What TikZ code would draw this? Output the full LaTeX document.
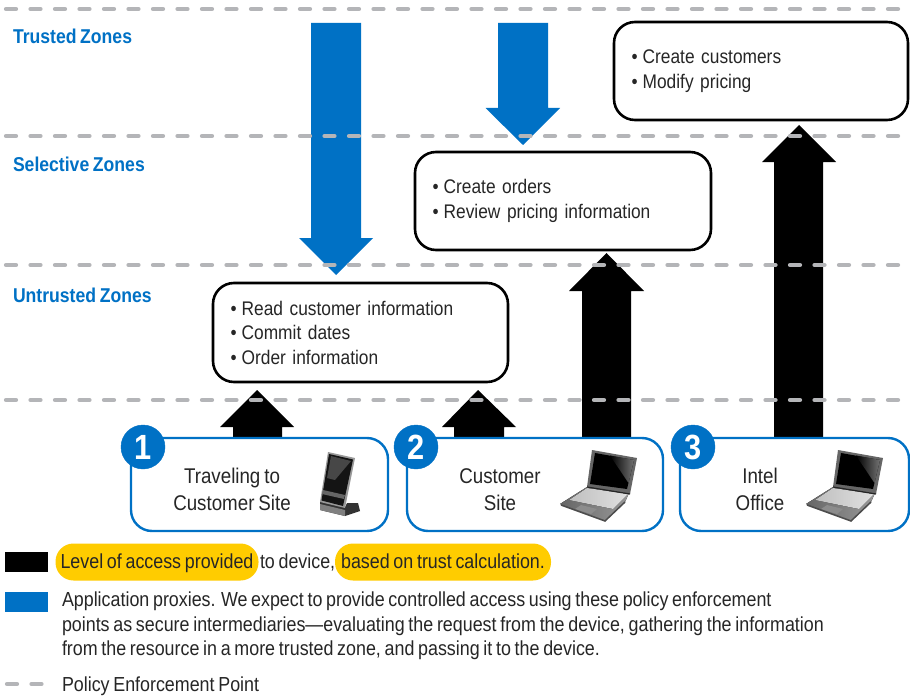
\documentclass[tikz,border=0pt]{standalone}
\usepackage{fontspec}
\setmainfont{Liberation Sans}[FakeStretch=0.88,WordSpace=0.75]
\usetikzlibrary{calc}
\definecolor{intelblue}{HTML}{0071C5}
\definecolor{dashgrey}{HTML}{B4B5B8}
\definecolor{pillyellow}{HTML}{FFCC00}
\definecolor{inktext}{HTML}{262626}
\newcommand{\bulitem}{•\kern-1.5pt\ }
\tikzset{
  x=1pt,y=-1pt,
  zonelabel/.style={anchor=west,inner sep=0pt,outer sep=0pt,text=intelblue,font=\fontsize{20}{22}\selectfont\bfseries},
  accessbox/.style={draw=black,fill=white,line width=2.6pt,rounded corners=21pt,anchor=north west,
    inner xsep=17.5pt,inner ysep=0pt,outer sep=0pt,align=left,text=inktext,
    font=\fontsize{19.7}{24.5}\selectfont},
  sitebox/.style={draw=intelblue,fill=white,line width=2.4pt,rounded corners=21pt,anchor=north west,
    minimum height=93pt,inner sep=0pt,outer sep=0pt},
  sitelabel/.style={align=center,inner sep=0pt,outer sep=0pt,text=inktext,font=\fontsize{21.3}{27}\selectfont},
  badge/.style={circle,fill=intelblue,draw=intelblue,minimum size=44pt,inner sep=0pt,outer sep=0pt,
    text=white,font=\fontsize{35}{35}\selectfont\bfseries},
  pef/.style={draw=dashgrey,line width=4.2pt,line cap=round,dash pattern=on 10pt off 14.5pt},
  bluearrow/.style={fill=intelblue},
  blackarrow/.style={fill=black},
  legendtext/.style={anchor=west,inner sep=0pt,outer sep=0pt,text=inktext,font=\fontsize{20.3}{24.5}\selectfont,align=left},
  pill/.style={fill=pillyellow,rounded corners=18pt,minimum height=37pt,inner sep=0pt,outer sep=0pt,
    text=inktext,font=\fontsize{20.3}{24}\selectfont,text height=16pt,text depth=4pt},
  swatch/.style={anchor=north west,minimum width=43pt,minimum height=20pt,inner sep=0pt,outer sep=0pt},
  laptop/.pic={
    % base
    \fill[left color=black!60,right color=black!40] (587,487) -- (629,493) -- (625,502) -- (605,521) -- (560,504) -- cycle;
    \fill[left color=black!25,right color=black!12] (587,488) -- (628,494) -- (613,509) -- (569,500) -- cycle;
    \fill[black!45] (581,505) -- (597,509) -- (591,514) -- (575,509) -- cycle;
    \draw[black!70,line width=1.5pt] (561,505) -- (605,521) -- (625,502);
    % lid
    \fill[black!60] (592,450) -- (637,458) -- (630,494) -- (587,487) -- cycle;
    \fill[black] (595,453) -- (634,460) -- (627,489) -- (590,484) -- cycle;
    \shade[left color=black,right color=black!55] (610,455.5) -- (634,460) -- (628.5,483) -- cycle;
    \draw[black!85,line width=1.2pt] (587,487) -- (630,494);
  },
  phone/.pic={
    % stand
    \fill[black!80] (320,501) -- (345,507) -- (347,503) -- (358,503) -- (360,511) -- (345,516) -- (320,510) -- cycle;
    \fill[black!50] (320,504) -- (345,510) -- (345,516) -- (320,510) -- cycle;
    % body
    \fill[black!40] (328,452) -- (355,458) -- (345,508) -- (320,502) -- cycle;
    \fill[black!92] (329,454) -- (353,459.5) -- (343,506) -- (321.5,500.5) -- cycle;
    \fill[black!72] (331,456) -- (351,461) -- (335,480) -- (327,478) -- cycle;
    \fill[black!60] (323,490) -- (345,495) -- (344,499) -- (322,494) -- cycle;
  },
}
\begin{document}
\begin{tikzpicture}
\useasboundingbox (0,0) rectangle (910,698);
\fill[white] (0,0) rectangle (910,698);

% blue proxy arrows
\fill[bluearrow] (311,23) -- (361,23) -- (361,238) -- (373,238) -- (336,275) -- (299,238) -- (311,238) -- cycle;
\fill[bluearrow] (498,23) -- (548,23) -- (548,108) -- (560,108) -- (523,145) -- (485.5,108) -- (498,108) -- cycle;

% black access arrows
\fill[blackarrow] (233,440) -- (233,427) -- (220,427) -- (257,390) -- (294,427) -- (282,427) -- (282,440) -- cycle;
\fill[blackarrow] (454,440) -- (454,427) -- (442,427) -- (478,390) -- (516,427) -- (504,427) -- (504,440) -- cycle;
\fill[blackarrow] (582,440) -- (582,291) -- (569,291) -- (606.5,253) -- (644,291) -- (631,291) -- (631,440) -- cycle;
\fill[blackarrow] (774,440) -- (774,162) -- (762,162) -- (799,125) -- (836,162) -- (823,162) -- (823,440) -- cycle;

% policy enforcement points
\coordinate (t1) at (6,9);    \coordinate (t1e) at (906,9);
\coordinate (t2) at (6,136);  \coordinate (t2e) at (906,136);
\coordinate (t3) at (6,265);  \coordinate (t3e) at (906,265);
\coordinate (t4) at (6,400);  \coordinate (t4e) at (906,400);
\draw[pef] (t1) -- (t1e);
\draw[pef] (t2) -- (t2e);
\draw[pef] (t3) -- (t3e);
\draw[pef] (t4) -- (t4e);

% zone labels
\node[zonelabel] (ztrusted) at (13,36.5) {Trusted Zones};
\node[zonelabel] (zselective) at (13,164.5) {Selective Zones};
\node[zonelabel] (zuntrusted) at (13,295.5) {Untrusted Zones};

% access boxes
\node[accessbox,text width=259pt,minimum height=98pt] (acctop) at (614,22)
  {\bulitem Create customers\\\bulitem Modify pricing};
\node[accessbox,text width=261pt,minimum height=98pt] (accmid) at (415,152)
  {\bulitem Create orders\\\bulitem Review pricing information};
\node[accessbox,text width=260pt,minimum height=99pt] (acclow) at (213,283)
  {\bulitem Read customer information\\\bulitem Commit dates\\\bulitem Order information\\[2pt]};

% site boxes
\node[sitebox,minimum width=257pt] (site1) at (131,438) {};
\node[sitebox,minimum width=256pt] (site2) at (407,438) {};
\node[sitebox,minimum width=229pt] (site3) at (680,438) {};

\node[sitelabel] (lab1) at (232,489.5) {Traveling to\\Customer Site};
\node[sitelabel] (lab2) at (500,489.5) {Customer\\Site};
\node[sitelabel] (lab3) at (760,489.5) {Intel\\Office};

\node[badge] (num1) at (143,447) {1};
\node[badge] (num2) at (416,447) {2};
\node[badge] (num3) at (693,447) {3};

% devices
\pic at (0,0) {phone};
\pic at (0,0) {laptop};
\pic at (246,0) {laptop};

% legend
\node[swatch,fill=black] (swblack) at (5,552) {};
\node[swatch,fill=intelblue] (swblue) at (5,592) {};
\node[pill,minimum width=203pt] (pill1) at (157,562) {Level of access provided};
\node[pill,minimum width=216pt] (pill2) at (443,562) {based on trust calculation.};
\node[legendtext,text height=16pt,text depth=4pt] (todev) at (260,562) {to device,};
\node[legendtext] (proxies) at (62,626)
  {Application proxies. We expect to provide controlled access using these policy enforcement\\
   points as secure intermediaries—evaluating the request from the device, gathering the information\\
   from the resource in a more trusted zone, and passing it to the device.};
\coordinate (lg1) at (7,684); \coordinate (lg1e) at (42,684);
\draw[pef] (lg1) -- (lg1e);
\node[legendtext] (pep) at (62,686) {Policy Enforcement Point};
\end{tikzpicture}
\end{document}
